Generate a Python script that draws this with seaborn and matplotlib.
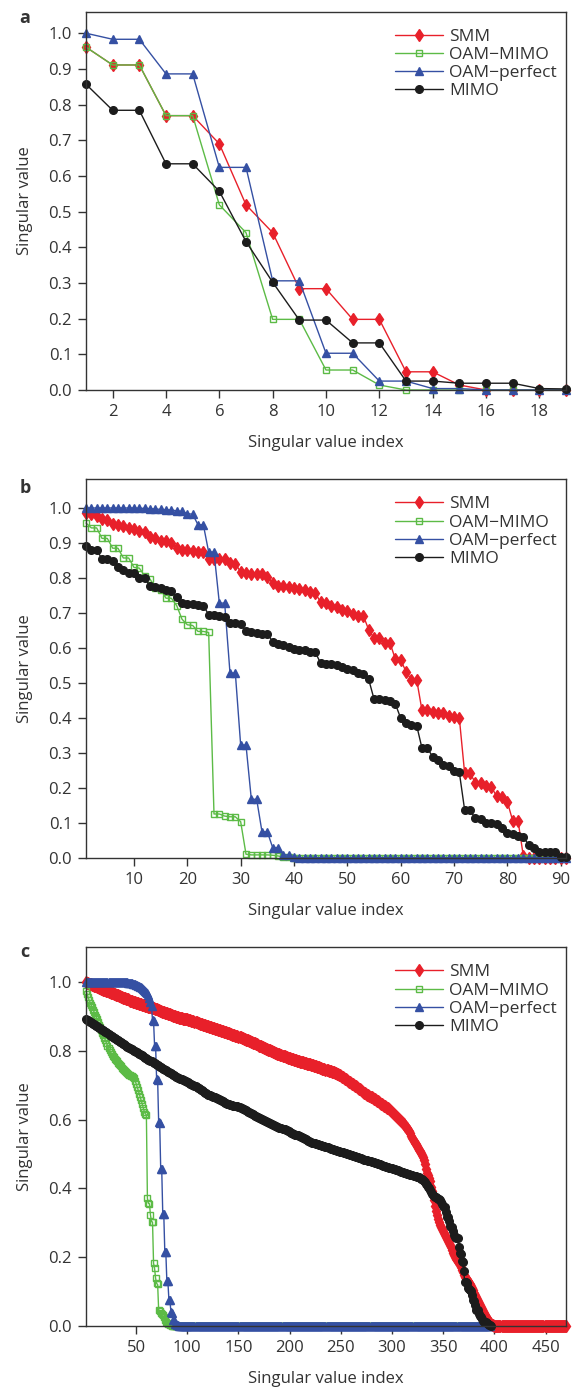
import matplotlib
matplotlib.use('Agg')
import matplotlib.pyplot as plt
from matplotlib.ticker import FormatStrFormatter
import seaborn as sns

# ---- panel a : 19 singular values ----
a_idx = list(range(1, 20))
a_smm = [0.961, 0.911, 0.911, 0.769, 0.769, 0.690, 0.519, 0.441, 0.284, 0.284,
         0.198, 0.198, 0.051, 0.051, 0.014, 0.0, 0.0, 0.0, 0.0]
a_oam_mimo = [0.961, 0.911, 0.911, 0.769, 0.769, 0.519, 0.441, 0.198, 0.198, 0.056,
              0.056, 0.014, 0.0, 0.0, 0.0, 0.0, 0.0, 0.0, 0.0]
a_oam_perfect = [1.0, 0.983, 0.983, 0.886, 0.886, 0.624, 0.624, 0.306, 0.306, 0.103,
                 0.103, 0.025, 0.025, 0.004, 0.004, 0.0, 0.0, 0.0, 0.0]
a_mimo = [0.857, 0.784, 0.784, 0.634, 0.634, 0.557, 0.416, 0.302, 0.196, 0.196,
          0.132, 0.132, 0.025, 0.025, 0.019, 0.019, 0.019, 0.004, 0.003]

# ---- panel b : 91 singular values ----
b_idx = list(range(1, 92))
b_smm = [0.986, 0.983, 0.976, 0.969, 0.967, 0.953, 0.951, 0.949, 0.943, 0.940,
         0.935, 0.931, 0.916, 0.914, 0.906, 0.905, 0.901, 0.885, 0.881, 0.881,
         0.878, 0.875, 0.873, 0.854, 0.854, 0.854, 0.854, 0.843, 0.841, 0.817,
         0.814, 0.812, 0.812, 0.812, 0.804, 0.785, 0.776, 0.776, 0.774, 0.771,
         0.769, 0.766, 0.759, 0.757, 0.730, 0.728, 0.721, 0.718, 0.709, 0.705,
         0.696, 0.692, 0.692, 0.652, 0.628, 0.628, 0.615, 0.614, 0.568, 0.566,
         0.532, 0.509, 0.509, 0.421, 0.421, 0.418, 0.415, 0.413, 0.406, 0.402,
         0.399, 0.241, 0.241, 0.215, 0.213, 0.205, 0.203, 0.175, 0.173, 0.160,
         0.106, 0.106, 0.005, 0.0, 0.0, 0.0, 0.0, 0.0, 0.0, 0.0, 0.0]
b_oam_mimo = [0.957, 0.943, 0.943, 0.913, 0.913, 0.885, 0.885, 0.857, 0.857, 0.830,
              0.828, 0.806, 0.797, 0.771, 0.766, 0.742, 0.742, 0.721, 0.682, 0.666,
              0.664, 0.647, 0.647, 0.644, 0.125, 0.125, 0.119, 0.117, 0.117, 0.103,
              0.010, 0.008, 0.008, 0.008, 0.008, 0.007, 0.005, 0.002, 0.001, 0.0] + [0.0] * 51
b_oam_perfect = [1.000, 1.000, 1.000, 1.000, 1.000, 1.000, 1.000, 1.000, 1.000, 1.000,
                 0.999, 0.999, 0.998, 0.997, 0.996, 0.995, 0.994, 0.992, 0.990, 0.984,
                 0.982, 0.952, 0.952, 0.874, 0.874, 0.728, 0.728, 0.528, 0.528, 0.322,
                 0.322, 0.167, 0.167, 0.074, 0.074, 0.029, 0.029, 0.008, 0.008, 0.002] + [0.0] * 51
b_mimo = [0.892, 0.881, 0.879, 0.855, 0.854, 0.847, 0.831, 0.823, 0.814, 0.814,
          0.800, 0.800, 0.776, 0.774, 0.771, 0.766, 0.764, 0.745, 0.728, 0.726,
          0.726, 0.723, 0.721, 0.695, 0.695, 0.690, 0.688, 0.672, 0.670, 0.668,
          0.648, 0.645, 0.642, 0.641, 0.640, 0.618, 0.611, 0.608, 0.603, 0.598,
          0.595, 0.594, 0.587, 0.587, 0.556, 0.554, 0.553, 0.551, 0.545, 0.541,
          0.538, 0.527, 0.526, 0.510, 0.454, 0.453, 0.451, 0.449, 0.440, 0.399,
          0.385, 0.380, 0.378, 0.313, 0.313, 0.289, 0.280, 0.265, 0.262, 0.249,
          0.244, 0.136, 0.135, 0.113, 0.111, 0.098, 0.098, 0.096, 0.084, 0.070,
          0.068, 0.062, 0.060, 0.036, 0.029, 0.017, 0.015, 0.015, 0.015, 0.003, 0.003]

# ---- panel c : 470 singular values ----
c_idx = list(range(1, 471))
c_smm = [1.000, 0.999, 0.997, 0.996, 0.995, 0.994, 0.992, 0.991, 0.990, 0.989,
         0.988, 0.986, 0.985, 0.984, 0.983, 0.981, 0.980, 0.979, 0.978, 0.977,
         0.975, 0.974, 0.973, 0.972, 0.970, 0.969, 0.968, 0.967, 0.965, 0.964,
         0.963, 0.962, 0.960, 0.959, 0.958, 0.957, 0.955, 0.954, 0.953, 0.952,
         0.951, 0.950, 0.948, 0.947, 0.946, 0.945, 0.944, 0.943, 0.942, 0.941,
         0.940, 0.939, 0.938, 0.937, 0.936, 0.935, 0.934, 0.933, 0.932, 0.931,
         0.930, 0.929, 0.928, 0.927, 0.926, 0.925, 0.924, 0.923, 0.922, 0.921,
         0.920, 0.918, 0.917, 0.916, 0.915, 0.914, 0.913, 0.912, 0.911, 0.910,
         0.909, 0.908, 0.907, 0.906, 0.905, 0.903, 0.902, 0.901, 0.900, 0.899,
         0.898, 0.897, 0.896, 0.895, 0.895, 0.894, 0.893, 0.893, 0.892, 0.892,
         0.891, 0.890, 0.889, 0.888, 0.887, 0.886, 0.885, 0.884, 0.883, 0.882,
         0.881, 0.880, 0.879, 0.878, 0.877, 0.876, 0.875, 0.874, 0.873, 0.872,
         0.871, 0.870, 0.869, 0.868, 0.867, 0.866, 0.865, 0.864, 0.863, 0.862,
         0.861, 0.860, 0.859, 0.858, 0.857, 0.856, 0.855, 0.854, 0.853, 0.852,
         0.851, 0.850, 0.849, 0.848, 0.847, 0.846, 0.845, 0.844, 0.843, 0.842,
         0.841, 0.840, 0.838, 0.837, 0.836, 0.835, 0.833, 0.832, 0.831, 0.829,
         0.828, 0.827, 0.825, 0.824, 0.823, 0.822, 0.820, 0.819, 0.818, 0.816,
         0.815, 0.814, 0.812, 0.811, 0.810, 0.808, 0.807, 0.806, 0.804, 0.803,
         0.802, 0.800, 0.799, 0.798, 0.796, 0.795, 0.794, 0.792, 0.791, 0.790,
         0.788, 0.787, 0.786, 0.785, 0.784, 0.783, 0.782, 0.781, 0.780, 0.779,
         0.778, 0.777, 0.776, 0.775, 0.774, 0.773, 0.772, 0.771, 0.770, 0.769,
         0.768, 0.767, 0.767, 0.766, 0.765, 0.764, 0.763, 0.762, 0.762, 0.761,
         0.760, 0.759, 0.758, 0.757, 0.756, 0.755, 0.754, 0.753, 0.752, 0.751,
         0.750, 0.749, 0.748, 0.747, 0.746, 0.745, 0.744, 0.743, 0.742, 0.741,
         0.740, 0.739, 0.738, 0.737, 0.736, 0.734, 0.733, 0.731, 0.729, 0.727,
         0.725, 0.723, 0.721, 0.719, 0.717, 0.715, 0.713, 0.711, 0.709, 0.707,
         0.705, 0.703, 0.701, 0.699, 0.697, 0.694, 0.692, 0.690, 0.688, 0.686,
         0.684, 0.682, 0.679, 0.677, 0.675, 0.673, 0.671, 0.669, 0.667, 0.665,
         0.663, 0.661, 0.659, 0.657, 0.655, 0.653, 0.651, 0.649, 0.647, 0.645,
         0.643, 0.641, 0.639, 0.637, 0.635, 0.633, 0.631, 0.629, 0.626, 0.623,
         0.620, 0.617, 0.614, 0.611, 0.608, 0.605, 0.602, 0.599, 0.596, 0.593,
         0.590, 0.587, 0.583, 0.579, 0.575, 0.571, 0.566, 0.560, 0.553, 0.546,
         0.539, 0.533, 0.528, 0.523, 0.518, 0.513, 0.508, 0.502, 0.496, 0.490,
         0.483, 0.472, 0.455, 0.445, 0.438, 0.430, 0.420, 0.405, 0.392, 0.380,
         0.365, 0.350, 0.335, 0.322, 0.312, 0.302, 0.293, 0.288, 0.282, 0.276,
         0.270, 0.264, 0.258, 0.253, 0.248, 0.242, 0.235, 0.228, 0.220, 0.211,
         0.205, 0.199, 0.193, 0.187, 0.182, 0.176, 0.170, 0.163, 0.156, 0.149,
         0.143, 0.139, 0.134, 0.130, 0.125, 0.121, 0.117, 0.110, 0.103, 0.096,
         0.089, 0.083, 0.077, 0.071, 0.065, 0.059, 0.054, 0.048, 0.042, 0.037,
         0.031, 0.026, 0.021, 0.016, 0.012, 0.008, 0.005, 0.003, 0.001, 0.000] + [0.0] * 70
c_oam_mimo = [0.975, 0.966, 0.957, 0.948, 0.941, 0.934, 0.927, 0.920, 0.913, 0.906,
              0.899, 0.892, 0.884, 0.876, 0.869, 0.861, 0.853, 0.846, 0.838, 0.831,
              0.823, 0.816, 0.809, 0.803, 0.797, 0.791, 0.786, 0.782, 0.778, 0.774,
              0.770, 0.766, 0.762, 0.758, 0.755, 0.751, 0.748, 0.745, 0.742, 0.739,
              0.736, 0.734, 0.731, 0.730, 0.728, 0.727, 0.725, 0.720, 0.712, 0.705,
              0.696, 0.686, 0.676, 0.666, 0.656, 0.645, 0.634, 0.623, 0.617, 0.614,
              0.371, 0.356, 0.355, 0.322, 0.303, 0.302, 0.182, 0.167, 0.138, 0.123,
              0.120, 0.046, 0.044, 0.038, 0.035, 0.030, 0.026, 0.018, 0.012, 0.009,
              0.006, 0.004, 0.002, 0.001] + [0.0] * 312
c_oam_perfect = [1.000, 1.000, 1.000, 1.000, 1.000, 1.000, 1.000, 1.000, 1.000, 1.000,
                 1.000, 1.000, 1.000, 1.000, 1.000, 1.000, 1.000, 1.000, 1.000, 1.000,
                 1.000, 1.000, 1.000, 1.000, 1.000, 1.000, 1.000, 1.000, 1.000, 1.000,
                 1.000, 1.000, 1.000, 1.000, 1.000, 1.000, 1.000, 1.000, 1.000, 1.000,
                 1.000, 0.999, 0.999, 0.998, 0.998, 0.997, 0.996, 0.995, 0.994, 0.993,
                 0.992, 0.990, 0.989, 0.987, 0.985, 0.983, 0.981, 0.978, 0.975, 0.972,
                 0.968, 0.963, 0.955, 0.944, 0.931, 0.889, 0.888, 0.816, 0.815, 0.717,
                 0.716, 0.592, 0.591, 0.456, 0.455, 0.326, 0.325, 0.215, 0.214, 0.130,
                 0.129, 0.076, 0.075, 0.039, 0.038, 0.018, 0.017, 0.006, 0.005, 0.002,
                 0.001] + [0.0] * 305
c_mimo = [0.892, 0.890, 0.889, 0.887, 0.885, 0.883, 0.882, 0.880, 0.878, 0.876,
          0.874, 0.872, 0.870, 0.868, 0.866, 0.864, 0.862, 0.860, 0.858, 0.856,
          0.854, 0.851, 0.849, 0.847, 0.845, 0.843, 0.841, 0.839, 0.837, 0.835,
          0.833, 0.831, 0.829, 0.827, 0.825, 0.823, 0.821, 0.819, 0.817, 0.815,
          0.813, 0.811, 0.810, 0.808, 0.806, 0.805, 0.803, 0.801, 0.800, 0.798,
          0.796, 0.794, 0.792, 0.790, 0.789, 0.787, 0.785, 0.783, 0.781, 0.779,
          0.777, 0.775, 0.773, 0.772, 0.770, 0.768, 0.766, 0.764, 0.762, 0.760,
          0.758, 0.756, 0.754, 0.752, 0.750, 0.749, 0.747, 0.745, 0.744, 0.742,
          0.740, 0.738, 0.737, 0.735, 0.733, 0.731, 0.729, 0.727, 0.725, 0.723,
          0.721, 0.720, 0.719, 0.718, 0.717, 0.716, 0.715, 0.714, 0.712, 0.711,
          0.709, 0.707, 0.705, 0.704, 0.702, 0.700, 0.698, 0.697, 0.695, 0.693,
          0.691, 0.689, 0.687, 0.685, 0.683, 0.681, 0.679, 0.677, 0.675, 0.673,
          0.672, 0.671, 0.670, 0.669, 0.667, 0.666, 0.665, 0.664, 0.662, 0.661,
          0.660, 0.658, 0.657, 0.655, 0.654, 0.652, 0.650, 0.649, 0.647, 0.646,
          0.645, 0.644, 0.643, 0.642, 0.641, 0.641, 0.640, 0.639, 0.639, 0.638,
          0.637, 0.635, 0.633, 0.632, 0.630, 0.628, 0.627, 0.625, 0.623, 0.622,
          0.620, 0.619, 0.617, 0.616, 0.614, 0.612, 0.610, 0.609, 0.607, 0.605,
          0.604, 0.603, 0.602, 0.600, 0.599, 0.597, 0.596, 0.594, 0.593, 0.591,
          0.590, 0.588, 0.587, 0.585, 0.584, 0.582, 0.581, 0.579, 0.578, 0.577,
          0.576, 0.575, 0.574, 0.573, 0.572, 0.571, 0.570, 0.568, 0.566, 0.565,
          0.562, 0.560, 0.558, 0.557, 0.556, 0.555, 0.555, 0.554, 0.553, 0.552,
          0.551, 0.550, 0.548, 0.547, 0.545, 0.543, 0.541, 0.539, 0.537, 0.535,
          0.534, 0.533, 0.532, 0.532, 0.531, 0.530, 0.529, 0.528, 0.527, 0.526,
          0.525, 0.524, 0.523, 0.522, 0.521, 0.520, 0.519, 0.518, 0.517, 0.516,
          0.515, 0.514, 0.513, 0.512, 0.511, 0.510, 0.509, 0.508, 0.507, 0.507,
          0.506, 0.505, 0.504, 0.503, 0.502, 0.501, 0.500, 0.499, 0.498, 0.497,
          0.496, 0.495, 0.494, 0.493, 0.492, 0.491, 0.490, 0.489, 0.488, 0.487,
          0.486, 0.485, 0.484, 0.484, 0.483, 0.482, 0.481, 0.480, 0.479, 0.478,
          0.477, 0.476, 0.475, 0.474, 0.473, 0.472, 0.471, 0.470, 0.469, 0.467,
          0.466, 0.465, 0.464, 0.463, 0.462, 0.461, 0.460, 0.459, 0.458, 0.458,
          0.457, 0.456, 0.455, 0.454, 0.453, 0.452, 0.451, 0.450, 0.449, 0.448,
          0.447, 0.446, 0.445, 0.444, 0.443, 0.442, 0.441, 0.440, 0.439, 0.438,
          0.437, 0.436, 0.435, 0.434, 0.433, 0.432, 0.430, 0.428, 0.426, 0.424,
          0.421, 0.418, 0.414, 0.410, 0.405, 0.400, 0.395, 0.390, 0.385, 0.380,
          0.378, 0.376, 0.374, 0.372, 0.370, 0.368, 0.366, 0.360, 0.355, 0.350,
          0.347, 0.345, 0.330, 0.317, 0.316, 0.305, 0.290, 0.288, 0.287, 0.275,
          0.265, 0.258, 0.256, 0.255, 0.230, 0.211, 0.210, 0.188, 0.186, 0.160,
          0.128, 0.126, 0.125, 0.110, 0.107, 0.104, 0.100, 0.090, 0.075, 0.072,
          0.060, 0.047, 0.046, 0.045, 0.035, 0.027, 0.026, 0.020, 0.015, 0.012,
          0.011, 0.010, 0.007, 0.005, 0.003, 0.002, 0.000]

names = ['SMM', 'OAM\u2212MIMO', 'OAM\u2212perfect', 'MIMO']
colors = ['#e8202a', '#5cbb46', '#3550a3', '#1c1c1c']
markers = ['d', 's', '^', 'o']
msizes = [6.5, 4.5, 6.0, 5.5]
faces = ['#e8202a', 'none', '#3550a3', '#1c1c1c']

sns.set_style('ticks')
plt.rcParams['font.family'] = ['Open Sans', 'DejaVu Sans']
plt.rcParams['text.color'] = '#333333'
plt.rcParams['axes.labelcolor'] = '#333333'
plt.rcParams['xtick.color'] = '#333333'
plt.rcParams['ytick.color'] = '#333333'

fig = plt.figure(figsize=(5.73, 13.88), dpi=100)
L, W = 86 / 573, 480 / 573
H = 378.4 / 1388
axes = [fig.add_axes([L, 1 - 390.0 / 1388, W, H]),
        fig.add_axes([L, 1 - 857.7 / 1388, W, H]),
        fig.add_axes([L, 1 - 1325.7 / 1388, W, H])]

panels = [
    (a_idx, [a_smm, a_oam_mimo, a_oam_perfect, a_mimo], (1, 19), 1.0606,
     list(range(2, 19, 2)), [i / 10 for i in range(11)], 'a', 18.3),
    (b_idx, [b_smm, b_oam_mimo, b_oam_perfect, b_mimo], (1, 91), 1.082,
     list(range(10, 91, 10)), [i / 10 for i in range(11)], 'b', 488.3),
    (c_idx, [c_smm, c_oam_mimo, c_oam_perfect, c_mimo], (1, 470), 1.102,
     list(range(50, 451, 50)), [i / 5 for i in range(6)], 'c', 951.7),
]

for ax, (idx, series, xlim, ytop, xt, yt, letter, ly) in zip(axes, panels):
    for name, vals, col, mk, ms, fc in zip(names, series, colors, markers, msizes, faces):
        sns.lineplot(x=idx[:len(vals)], y=vals, ax=ax, color=col, marker=mk,
                     markersize=ms, markerfacecolor=fc, markeredgecolor=col,
                     markeredgewidth=1.0, linewidth=1.0, label=name,
                     errorbar=None, clip_on=False)
    ax.set_xlim(*xlim)
    ax.set_ylim(0, ytop)
    ax.set_xticks(xt)
    ax.set_yticks(yt)
    ax.yaxis.set_major_formatter(FormatStrFormatter('%.1f'))
    ax.tick_params(direction='out', length=6, width=1.0, labelsize=12, pad=4)
    for sp in ax.spines.values():
        sp.set_visible(True)
        sp.set_linewidth(1.0)
        sp.set_color('#333333')
    ax.set_xlabel('Singular value index', fontsize=12)
    ax.set_ylabel('Singular value', fontsize=12)
    ax.xaxis.set_label_coords(0.5, -0.12)
    ax.yaxis.set_label_coords(-0.11, 0.5)
    ax.legend(loc='upper left', bbox_to_anchor=(0.644, 0.955), frameon=False,
              fontsize=12.5, handlelength=2.75, handletextpad=0.35,
              labelspacing=0.12, borderpad=0, borderaxespad=0)
    fig.text(25 / 573, 1 - ly / 1388, letter, fontsize=13, fontweight='bold',
             ha='center', va='center')

fig.savefig('out.png', dpi=100)
